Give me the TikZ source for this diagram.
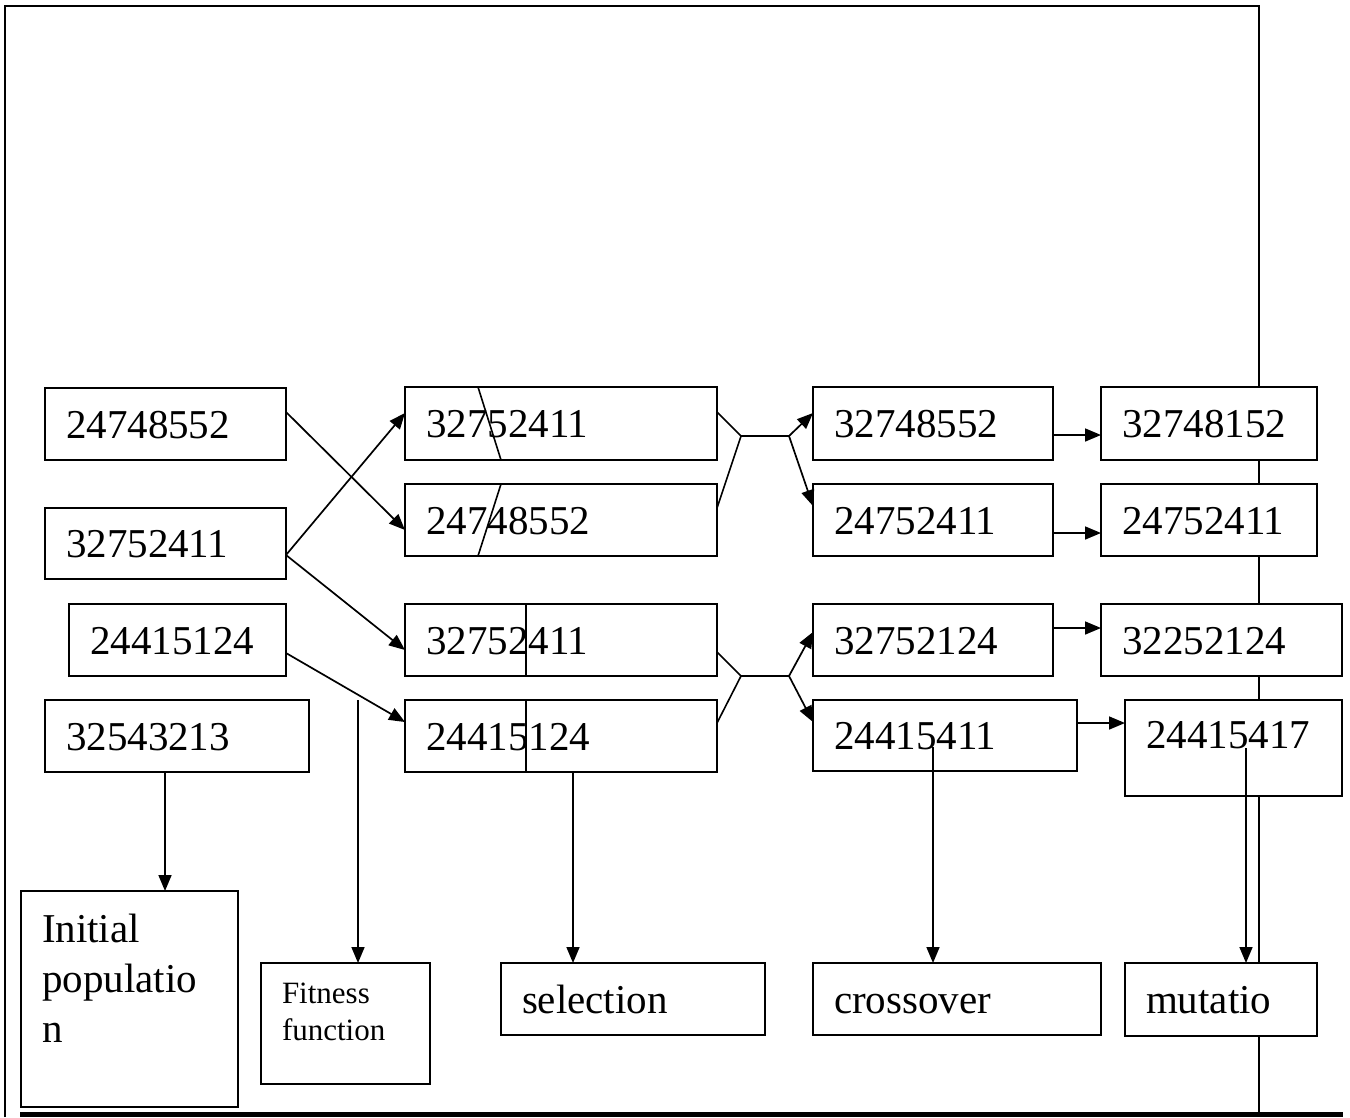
\documentclass[tikz,border=0pt]{standalone}
\usepackage{fontspec}
\setmainfont{Liberation Serif}
\usetikzlibrary{arrows.meta,calc}
\begin{document}
\begin{tikzpicture}[x=1pt,y=-1pt,
  box/.style={draw, fill=white, line width=1.6pt, anchor=north west, inner xsep=21pt, inner ysep=0pt, outer sep=0pt, align=left, font=\fontsize{41}{50}\selectfont, text height=28pt, text depth=0pt},
  arr/.style={line width=1.7pt, -{Triangle[length=16pt,width=13pt]}},
  ln/.style={line width=1.6pt},
  framel/.style={line width=2.6pt, line join=miter}]
\useasboundingbox (0,0) rectangle (1350,1117);
% outer frame
\draw[framel] (5,1117) -- (5,6) -- (1259,6) -- (1259,1117);
\draw[line width=5pt] (20,1114) -- (1343,1114);
% initial population strings
\node[box, text width=199pt, minimum height=72pt] (a1) at (45,388) {24748552};
\node[box, text width=199pt, minimum height=71pt] (a2) at (45,508) {32752411};
\node[box, text width=175pt, minimum height=72pt] (a3) at (69,604) {24415124};
\node[box, text width=222pt, minimum height=72pt] (a4) at (45,700) {32543213};
% selected
\node[box, text width=270pt, minimum height=73pt] (b1) at (405,387) {32752411};
\node[box, text width=270pt, minimum height=72pt] (b2) at (405,484) {24748552};
\node[box, text width=270pt, minimum height=72pt] (b3) at (405,604) {32752411};
\node[box, text width=270pt, minimum height=72pt] (b4) at (405,700) {24415124};
% crossover results
\node[box, text width=198pt, minimum height=73pt] (c1) at (813,387) {32748552};
\node[box, text width=198pt, minimum height=72pt] (c2) at (813,484) {24752411};
\node[box, text width=198pt, minimum height=72pt] (c3) at (813,604) {32752124};
\node[box, text width=222pt, minimum height=71pt] (c4) at (813,700) {24415411};
% mutation results
\node[box, text width=174pt, minimum height=73pt] (d1) at (1101,387) {32748152};
\node[box, text width=174pt, minimum height=72pt] (d2) at (1101,484) {24752411};
\node[box, text width=199pt, minimum height=72pt] (d3) at (1101,604) {32252124};
\node[box, text width=175pt, minimum height=96pt, text depth=28pt] (d4) at (1125,700) {24415417};
% labels
\node[box, text width=175pt, minimum height=216pt, text depth=142pt] (ip) at (21,891) {Initial\\populatio\\n};
\node[box, text width=127pt, minimum height=121pt, font=\fontsize{31}{37}\selectfont, text height=21pt, text depth=62pt] (ff) at (261,963) {Fitness\\function};
\node[box, text width=222pt, minimum height=72pt] (se) at (501,963) {selection};
\node[box, text width=246pt, minimum height=72pt] (cr) at (813,963) {crossover};
\node[box, text width=150pt, minimum height=73pt] (mu) at (1125,963) {mutatio};
% crossover points
\draw[ln] ([xshift=73pt]b1.north west) -- ([xshift=96pt]b1.south west);
\draw[ln] ([xshift=96pt]b2.north west) -- ([xshift=73pt]b2.south west);
\draw[ln] ([xshift=121pt]b3.north west) -- ([xshift=121pt]b3.south west);
\draw[ln] ([xshift=121pt]b4.north west) -- ([xshift=121pt]b4.south west);
% helper coordinates
\coordinate (j1) at (741,436);
\coordinate (k1) at (789,436);
\coordinate (j2) at (741,676);
\coordinate (k2) at (789,676);
\coordinate (f0) at (358,700);
\coordinate (c4in) at (933,747);
\coordinate (d4in) at (1246,748);
% selection arrows
\draw[arr] ([yshift=12pt]a1.east) -- ([yshift=-10pt]b2.west);
\draw[arr] ([yshift=-11.5pt]a2.east) -- ([yshift=10.5pt]b1.west);
\draw[arr] ([yshift=-11.5pt]a2.east) -- ([yshift=-10pt]b3.west);
\draw[arr] ([yshift=-13pt]a3.east) -- ([yshift=14pt]b4.west);
% crossover joins
\draw[ln] ([yshift=11.5pt]b1.east) -- (j1) -- (k1);
\draw[ln] ([yshift=12pt]b2.east) -- (j1);
\draw[arr] (k1) -- ([yshift=10.5pt]c1.west);
\draw[arr] (k1) -- ([yshift=14pt]c2.west);
\draw[ln] ([yshift=-12pt]b3.east) -- (j2) -- (k2);
\draw[ln] ([yshift=13pt]b4.east) -- (j2);
\draw[arr] (k2) -- ([yshift=8pt]c3.west);
\draw[arr] (k2) -- ([yshift=13.5pt]c4.west);
% mutation arrows
\draw[arr] ([yshift=-11.5pt]c1.east) -- ([yshift=-11.5pt]d1.west);
\draw[arr] ([yshift=-13pt]c2.east) -- ([yshift=-13pt]d2.west);
\draw[arr] ([yshift=12pt]c3.east) -- ([yshift=12pt]d3.west);
\draw[arr] ([yshift=12.5pt]c4.east) -- ([yshift=25pt]d4.west);
% vertical arrows to labels
\draw[arr] ([xshift=-12pt]a4.south) -- ([xshift=-12pt]a4.south |- ip.north);
\draw[arr] (f0) -- (f0 |- ff.north);
\draw[arr] ([xshift=12pt]b4.south) -- ([xshift=12pt]b4.south |- se.north);
\draw[arr] (c4in) -- (c4in |- cr.north);
\draw[arr] (d4in) -- (d4in |- mu.north);
\end{tikzpicture}
\end{document}
